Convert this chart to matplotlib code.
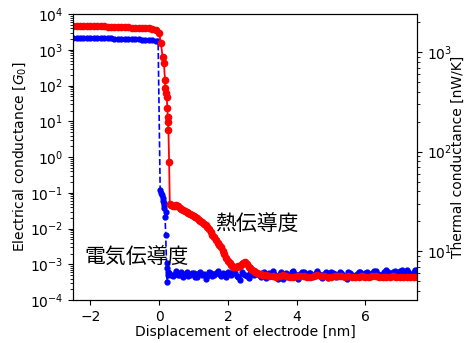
import matplotlib
matplotlib.use("Agg")
import matplotlib.pyplot as plt

plt.rcParams['font.family'] = ['DejaVu Sans', 'Noto Sans CJK JP']

# electrical conductance [G0] (left axis, blue)
elec_x = [-2.5, -2.4, -2.3, -2.2, -2.1, -2.0, -1.9, -1.8, -1.7, -1.6,
          -1.5, -1.4, -1.3, -1.2, -1.1, -1.0, -0.9, -0.8, -0.7, -0.6,
          -0.5, -0.4, -0.3, -0.2, -0.1, -0.03,
          0.03, 0.05, 0.08, 0.10, 0.12, 0.145, 0.127, 0.15, 0.194, 0.174,
          0.19, 0.215, 0.22, 0.24, 0.25, 0.27,
          0.30, 0.35, 0.40, 0.45, 0.50, 0.55, 0.60, 0.65, 0.70, 0.75,
          0.80, 0.85, 0.90, 0.95, 1.00, 1.05, 1.10, 1.15, 1.20, 1.25,
          1.30, 1.35, 1.40, 1.45, 1.50, 1.55, 1.60, 1.65, 1.70, 1.75,
          1.80, 1.85, 1.90, 1.95, 2.00, 2.05, 2.10, 2.15, 2.20, 2.25,
          2.30, 2.35, 2.40, 2.45, 2.50, 2.55, 2.60, 2.65, 2.70, 2.75,
          2.80, 2.85, 2.90, 2.95, 3.00, 3.05, 3.10, 3.15, 3.20, 3.25,
          3.30, 3.35, 3.40, 3.45, 3.50, 3.55, 3.60, 3.65, 3.70, 3.75,
          3.80, 3.85, 3.90, 3.95, 4.00, 4.05, 4.10, 4.15, 4.20, 4.25,
          4.30, 4.35, 4.40, 4.45, 4.50, 4.55, 4.60, 4.65, 4.70, 4.75,
          4.80, 4.85, 4.90, 4.95, 5.00, 5.05, 5.10, 5.15, 5.20, 5.25,
          5.30, 5.35, 5.40, 5.45, 5.50, 5.55, 5.60, 5.65, 5.70, 5.75,
          5.80, 5.85, 5.90, 5.95, 6.00, 6.05, 6.10, 6.15, 6.20, 6.25,
          6.30, 6.35, 6.40, 6.45, 6.50, 6.55, 6.60, 6.65, 6.70, 6.75,
          6.80, 6.85, 6.90, 6.95, 7.00, 7.05, 7.10, 7.15, 7.20, 7.25,
          7.30, 7.35, 7.40, 7.45, 7.50]
elec_g = [2180, 2170, 2175, 2160, 2150, 2160, 2140, 2130, 2120, 2110,
          2100, 2090, 2070, 2060, 2040, 2020, 2000, 1990, 1970, 1950,
          1930, 1900, 1880, 1850, 1810, 1780,
          0.119, 0.097, 0.085, 0.071, 0.060, 0.0516, 0.0374, 0.045, 0.0295, 0.0214,
          0.0066, 0.00109, 0.00077, 0.000325, 0.0006, 0.0005,
          5.8e-4, 5.0e-4, 4.6e-4, 5.5e-4, 6.4e-4, 4.9e-4, 5.2e-4, 6.0e-4, 4.3e-4, 5.4e-4,
          6.0e-4, 4.7e-4, 5.0e-4, 5.9e-4, 5.6e-4, 4.5e-4, 4.4e-4, 5.8e-4, 6.2e-4, 5.0e-4,
          5.3e-4, 4.0e-4, 4.8e-4, 6.1e-4, 5.9e-4, 4.6e-4, 5.1e-4, 5.7e-4, 6.5e-4, 5.3e-4,
          4.7e-4, 5.9e-4, 5.5e-4, 4.4e-4, 6.1e-4, 5.4e-4, 5.0e-4, 6.3e-4, 5.7e-4, 4.8e-4,
          4.5e-4, 3.6e-4, 6.0e-4, 5.5e-4, 5.2e-4, 4.6e-4, 4.2e-4, 5.8e-4, 5.4e-4, 4.9e-4,
          6.3e-4, 5.6e-4, 4.9e-4, 4.3e-4, 5.6e-4, 6.2e-4, 4.1e-4, 5.2e-4, 5.8e-4, 4.7e-4,
          6.4e-4, 5.5e-4, 4.8e-4, 3.8e-4, 5.3e-4, 6.0e-4, 3.9e-4, 5.0e-4, 5.9e-4, 4.5e-4,
          5.1e-4, 6.2e-4, 6.6e-4, 5.3e-4, 4.6e-4, 4.0e-4, 5.4e-4, 6.1e-4, 6.0e-4, 5.0e-4,
          4.4e-4, 5.6e-4, 5.7e-4, 4.3e-4, 5.0e-4, 5.9e-4, 6.7e-4, 5.4e-4, 4.7e-4, 4.1e-4,
          5.5e-4, 6.3e-4, 4.2e-4, 5.1e-4, 6.2e-4, 5.6e-4, 5.3e-4, 4.4e-4, 4.8e-4, 6.0e-4,
          5.9e-4, 5.0e-4, 4.5e-4, 3.9e-4, 6.1e-4, 5.7e-4, 5.2e-4, 4.8e-4, 4.6e-4, 5.5e-4,
          6.3e-4, 6.0e-4, 5.0e-4, 4.4e-4, 5.6e-4, 6.2e-4, 4.3e-4, 5.1e-4, 5.8e-4, 6.5e-4,
          6.4e-4, 5.3e-4, 4.9e-4, 4.4e-4, 5.5e-4, 6.3e-4, 6.8e-4, 6.0e-4, 5.1e-4, 4.6e-4,
          6.0e-4, 6.6e-4, 4.7e-4, 5.4e-4, 6.5e-4, 7.1e-4, 5.7e-4, 5.0e-4, 6.9e-4, 6.2e-4,
          5.3e-4, 4.8e-4, 6.2e-4, 6.8e-4, 7.0e-4]

# thermal conductance [nW/K] (right axis, red)
therm_x = [-2.5, -2.4, -2.3, -2.2, -2.1, -2.0, -1.9, -1.8, -1.7, -1.6,
           -1.5, -1.4, -1.3, -1.2, -1.1, -1.0, -0.9, -0.8, -0.7, -0.6,
           -0.5, -0.4, -0.3, -0.2, -0.1, 0.0,
           0.05, 0.10, 0.14, 0.17, 0.18, 0.20, 0.22, 0.24, 0.25, 0.26,
           0.27, 0.29, 0.31,
           0.35, 0.40, 0.45, 0.50, 0.55, 0.60, 0.65, 0.70, 0.75, 0.80,
           0.85, 0.90, 0.95, 1.00, 1.05, 1.10, 1.15, 1.20, 1.25, 1.30,
           1.35, 1.40, 1.45, 1.50, 1.55, 1.60, 1.65, 1.70, 1.75, 1.80,
           1.85, 1.90, 1.95, 2.00, 2.05, 2.10, 2.15, 2.20, 2.25, 2.30,
           2.35, 2.40, 2.45, 2.50, 2.55, 2.60, 2.65, 2.70, 2.75, 2.80,
           2.85, 2.90, 2.95, 3.00,
           3.1, 3.2, 3.3, 3.4, 3.5, 3.6, 3.7, 3.8, 3.9, 4.0,
           4.1, 4.2, 4.3, 4.4, 4.5, 4.6, 4.7, 4.8, 4.9, 5.0,
           5.1, 5.2, 5.3, 5.4, 5.5, 5.6, 5.7, 5.8, 5.9, 6.0,
           6.1, 6.2, 6.3, 6.4, 6.5, 6.6, 6.7, 6.8, 6.9, 7.0,
           7.1, 7.2, 7.3, 7.4, 7.5]
therm_k = [1840, 1830, 1835, 1825, 1830, 1820, 1825, 1815, 1820, 1810,
           1805, 1800, 1795, 1790, 1780, 1775, 1770, 1760, 1755, 1750,
           1745, 1740, 1735, 1725, 1680, 1560,
           1232, 897, 770, 523, 434, 387, 353, 274, 222, 198,
           164, 79, 29.7,
           29.0, 28.7, 28.7, 29.0, 28.3, 27.4, 26.7, 26.1, 25.5, 24.9,
           24.4, 23.8, 23.3, 22.7, 22.1, 21.5, 20.7, 20.3, 19.6, 18.9,
           18.3, 17.5, 16.6, 15.5, 14.5, 13.8, 12.9, 12.2, 11.5, 11.0,
           10.1, 9.33, 8.51, 7.93, 7.57, 7.23, 6.99, 6.91, 6.99, 7.07,
           7.15, 7.40, 7.66, 7.80, 7.40, 6.99, 6.75, 6.52, 6.29, 6.15,
           6.01, 5.94, 5.87, 5.81,
           5.7, 5.6, 5.65, 5.55, 5.6, 5.7, 5.6, 5.5, 5.55, 5.6,
           5.65, 5.6, 5.5, 5.55, 5.6, 5.7, 5.65, 5.6, 5.55, 5.5,
           5.6, 5.65, 5.6, 5.55, 5.6, 5.5, 5.45, 5.55, 5.6, 5.5,
           5.55, 5.6, 5.65, 5.55, 5.5, 5.45, 5.5, 5.6, 5.55, 5.5,
           5.45, 5.5, 5.55, 5.5, 5.45]

fig, ax = plt.subplots(figsize=(4.66, 3.43), dpi=100)
fig.subplots_adjust(left=0.157, right=0.895, bottom=0.125, top=0.959)

ax.plot(elec_x, elec_g, color='blue', linestyle='--', marker='o',
        markersize=3.5, linewidth=1.2)
ax.set_yscale('log')
ax.set_ylim(1e-4, 1e4)
ax.set_xlim(-2.5, 7.5)
ax.set_xlabel('Displacement of electrode [nm]', labelpad=1)
ax.set_ylabel('Electrical conductance [$G_0$]', labelpad=1.5)

ax2 = ax.twinx()
ax2.plot(therm_x, therm_k, color='red', linestyle='-', marker='o',
         markersize=4.5, linewidth=1.3)
ax2.set_yscale('log')
ax2.set_ylim(3.22, 2410)
ax2.set_ylabel('Thermal conductance [nW/K]', labelpad=-1)

ax.text(1.64, 0.0126, '熱伝導度', fontsize=15, family='Noto Sans CJK JP',
        ha='left', va='center')
ax.text(-2.18, 1.55e-3, '電気伝導度', fontsize=15, family='Noto Sans CJK JP',
        ha='left', va='center')

fig.savefig('out.png', dpi=100)
